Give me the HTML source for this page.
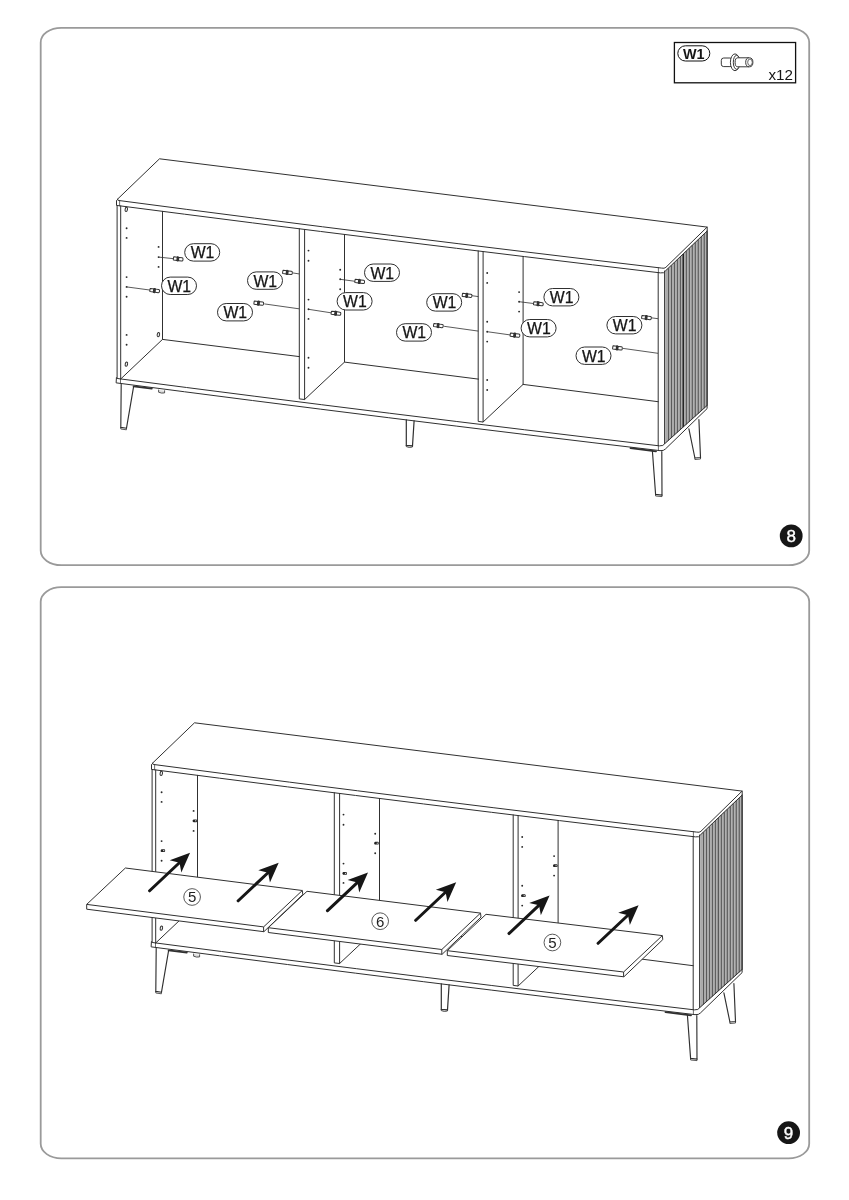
<!DOCTYPE html>
<html lang="en"><head><meta charset="utf-8"><title>Assembly steps 8-9</title>
<style>
html,body{margin:0;padding:0;background:#fff;}
body{width:849px;height:1200px;overflow:hidden;}
svg{display:block;font-family:"Liberation Sans",Arial,sans-serif;fill:#161616;}
svg{will-change:transform;}
</style></head><body>
<svg width="849" height="1200" viewBox="0 0 849 1200">
<rect width="849" height="1200" fill="#fff"/>
<rect x="40.7" y="27.8" width="768.5" height="537.4" rx="20.6" ry="14.6" fill="none" stroke="#9a9a9a" stroke-width="1.8"/>
<rect x="40.7" y="587.2" width="768.5" height="571.2" rx="20.6" ry="14.6" fill="none" stroke="#9a9a9a" stroke-width="1.8"/>
<!-- step 8 -->
<g id="cab" fill="none" stroke-width="1" stroke-linecap="round">
<path d="M665.3,271.2 L707.1,231.1 L707.1,405.6 L665.3,443.2 Z" fill="#a6a6a6" stroke="none"/>
<g stroke-linecap="butt">
<path d="M667.39,269.24 V440.21" stroke="#dcdcdc" stroke-width="0.8"/>
<path d="M668.29,268.34 V440.51" stroke="#444" stroke-width="1.0"/>
<path d="M670.37,266.37 V437.53" stroke="#dcdcdc" stroke-width="0.8"/>
<path d="M671.27,265.47 V437.83" stroke="#444" stroke-width="1.0"/>
<path d="M673.36,263.51 V434.84" stroke="#dcdcdc" stroke-width="0.8"/>
<path d="M674.26,262.61 V435.14" stroke="#444" stroke-width="1.0"/>
<path d="M676.34,260.64 V432.16" stroke="#dcdcdc" stroke-width="0.8"/>
<path d="M677.24,259.74 V432.46" stroke="#444" stroke-width="1.0"/>
<path d="M679.33,257.78 V429.47" stroke="#dcdcdc" stroke-width="0.8"/>
<path d="M680.23,256.88 V429.77" stroke="#444" stroke-width="1.0"/>
<path d="M682.31,254.91 V426.79" stroke="#dcdcdc" stroke-width="0.8"/>
<path d="M683.21,254.01 V427.09" stroke="#262626" stroke-width="1.6"/>
<path d="M685.3,252.05 V424.1" stroke="#dcdcdc" stroke-width="0.8"/>
<path d="M686.2,251.15 V424.4" stroke="#444" stroke-width="1.0"/>
<path d="M688.29,249.19 V421.41" stroke="#dcdcdc" stroke-width="0.8"/>
<path d="M689.19,248.29 V421.71" stroke="#444" stroke-width="1.0"/>
<path d="M691.27,246.32 V418.73" stroke="#dcdcdc" stroke-width="0.8"/>
<path d="M692.17,245.42 V419.03" stroke="#444" stroke-width="1.0"/>
<path d="M694.26,243.46 V416.04" stroke="#dcdcdc" stroke-width="0.8"/>
<path d="M695.16,242.56 V416.34" stroke="#444" stroke-width="1.0"/>
<path d="M697.24,240.59 V413.36" stroke="#dcdcdc" stroke-width="0.8"/>
<path d="M698.14,239.69 V413.66" stroke="#444" stroke-width="1.0"/>
<path d="M700.23,237.73 V410.67" stroke="#dcdcdc" stroke-width="0.8"/>
<path d="M701.13,236.83 V410.97" stroke="#444" stroke-width="1.0"/>
<path d="M703.21,234.86 V407.99" stroke="#dcdcdc" stroke-width="0.8"/>
<path d="M704.11,233.96 V408.29" stroke="#444" stroke-width="1.0"/>
<path d="M706.2,232 V405.3" stroke="#dcdcdc" stroke-width="0.8"/>
<path d="M707.1,231.1 V405.6" stroke="#262626" stroke-width="1.0"/>
</g>
<path d="M117.6,199.1 L159.5,158.8 L707.1,227.1 L665.9,267.3 Q664.4,268.8 661.6,268.09 L593.78,260.07 L525.95,251.93 L458.12,243.67 L390.3,235.29 L322.48,226.78 L254.65,218.15 L186.82,209.4 L119,200.53 Q116.5,200.2 117.6,199.1 Z" fill="#fff" stroke="#303030"/>
<path d="M116.5,200.6 V205.4 L184.5,214.18 L252.5,222.86 L320.5,231.44 L388.5,239.93 L456.5,248.31 L524.5,256.6 L592.5,264.79 L660.5,272.88 Q664.2,273.52 665.3,271 L707.2,231 V227.1" fill="none" stroke="#303030"/>
<path d="M119.6,200.9 V205.8 M658.4,267.71 V272.63" stroke="#303030" stroke-width="0.7"/>
<path d="M117.1,205.5 V378.4 M120.7,206 V379" stroke="#303030"/>
<path d="M162.5,211.35 V339.4 L120.7,379" fill="none" stroke="#303030"/>
<path d="M162.5,339.4 L299.3,356.6" stroke="#303030"/>
<path d="M299.3,228.78 V398.9 L304.6,399.5 V229.45" fill="none" stroke="#303030"/>
<path d="M304.6,399.5 L344.5,362.1 V234.45" fill="none" stroke="#303030"/>
<path d="M344.5,362.1 L478.4,379.11" stroke="#303030"/>
<path d="M478.2,250.97 V421.4 L483.1,422 V251.57" fill="none" stroke="#303030"/>
<path d="M483.1,422 L523.1,384.4 V256.43" fill="none" stroke="#303030"/>
<path d="M523.1,384.4 L658.2,401.71" stroke="#303030"/>
<path d="M658.2,272.61 V445.72 M664.6,271 V443.6" stroke="#303030"/>
<path d="M707.1,231 V405.5" stroke="#303030"/>
<path d="M116.5,377.9 Q116.6,378.6 119,378.73 L186.56,387.5 L254.12,396.17 L321.69,404.73 L389.25,413.18 L456.81,421.51 L524.38,429.74 L591.94,437.86 L659.5,445.87 Q663.4,446.16 664.8,443.6 L707.1,405.5 V408.6 L665.4,449 Q663.8,451 660,450.65 L592.06,442.57 L524.12,434.38 L456.19,426.07 L388.25,417.66 L320.31,409.14 L252.38,400.5 L184.44,391.76 L116.5,382.9 Z" fill="none" stroke="#303030"/>
<path d="M120.5,378.92 V383.42 M658.4,445.74 V450.46" stroke="#303030" stroke-width="0.7"/>
<path d="M121.2,384.3 L120.8,427.4 L126.5,428.2 L133.6,386.6" fill="none" stroke="#303030" stroke-width="1.15"/>
<path d="M120.8,427.4 V429 L126.4,429.8 V428.2" fill="none" stroke="#303030" stroke-width="0.8"/>
<path d="M133.6,386.4 L151.8,388.7" stroke="#303030" stroke-width="1.8"/>
<path d="M158.6,390 V392.2 Q161.5,393.6 164.6,392.9 V390.7" fill="#ddd" stroke="#303030" stroke-width="0.8"/>
<path d="M406.3,419.91 V445.4 L412.5,445.9 L414.1,420.87" fill="none" stroke="#303030" stroke-width="1.2"/>
<path d="M406.3,445.4 V446.6 Q409.3,448 412.4,447 V445.9" fill="none" stroke="#303030" stroke-width="0.9"/>
<path d="M652.4,451 L655.6,494.4 L662,495 L661.8,451.6" fill="none" stroke="#303030" stroke-width="1.15"/>
<path d="M655.6,494.4 V496 L662,496.6 V495" fill="none" stroke="#303030" stroke-width="0.8"/>
<path d="M630.5,448.2 L656,451.4" stroke="#303030" stroke-width="1.8"/>
<path d="M688.9,428.9 L694.9,458 L700.5,457.5 L698.9,419.6" fill="none" stroke="#303030" stroke-width="1.15"/>
<path d="M694.9,458 V459.5 L700.5,459 V457.5" fill="none" stroke="#303030" stroke-width="0.8"/>
<g fill="#2a2a2a"><circle cx="126.6" cy="228.3" r="0.95"/><circle cx="126.6" cy="237.9" r="0.95"/><circle cx="126.6" cy="277.1" r="0.95"/><circle cx="126.6" cy="286.9" r="0.95"/><circle cx="126.6" cy="296.8" r="0.95"/><circle cx="126.6" cy="334.9" r="0.95"/><circle cx="126.6" cy="344.8" r="0.95"/><circle cx="158.6" cy="246.9" r="0.95"/><circle cx="158.6" cy="257.1" r="0.95"/><circle cx="158.6" cy="266.9" r="0.95"/><circle cx="308.5" cy="250.6" r="0.95"/><circle cx="308.5" cy="260.8" r="0.95"/><circle cx="308.5" cy="299.6" r="0.95"/><circle cx="308.5" cy="309.3" r="0.95"/><circle cx="308.5" cy="318.9" r="0.95"/><circle cx="308.5" cy="357.7" r="0.95"/><circle cx="308.5" cy="367.7" r="0.95"/><circle cx="340.2" cy="269.7" r="0.95"/><circle cx="340.2" cy="279.3" r="0.95"/><circle cx="340.2" cy="289.2" r="0.95"/><circle cx="487.2" cy="273" r="0.95"/><circle cx="487.2" cy="282.9" r="0.95"/><circle cx="487.2" cy="321.8" r="0.95"/><circle cx="487.2" cy="331.7" r="0.95"/><circle cx="487.2" cy="341.6" r="0.95"/><circle cx="487.2" cy="380" r="0.95"/><circle cx="487.2" cy="390" r="0.95"/><circle cx="519.1" cy="292.1" r="0.95"/><circle cx="519.1" cy="301.7" r="0.95"/><circle cx="519.1" cy="311.6" r="0.95"/></g>
<ellipse cx="126.3" cy="209.3" rx="1.2" ry="2.2" transform="rotate(12 126.3 209.3)" fill="#eee" stroke="#303030" stroke-width="1"/><ellipse cx="126.4" cy="364.1" rx="1.2" ry="2.2" transform="rotate(12 126.4 364.1)" fill="#eee" stroke="#303030" stroke-width="1"/><ellipse cx="158.4" cy="334.6" rx="1.2" ry="2.2" transform="rotate(12 158.4 334.6)" fill="#eee" stroke="#303030" stroke-width="1"/>
</g>
<path d="M158.6,257.1 L173.9,258.7" stroke="#303030" stroke-width="0.8"/>
<path d="M126.6,286.9 L150.3,290.1" stroke="#303030" stroke-width="0.8"/>
<path d="M292.6,272.9 L299,273.9" stroke="#303030" stroke-width="0.8"/>
<path d="M264.3,303.9 L299,308.8" stroke="#303030" stroke-width="0.8"/>
<path d="M340.2,279.3 L355.1,281.3" stroke="#303030" stroke-width="0.8"/>
<path d="M308.5,309.3 L331,312.8" stroke="#303030" stroke-width="0.8"/>
<path d="M471.9,295.7 L478.3,296.6" stroke="#303030" stroke-width="0.8"/>
<path d="M444.1,326.3 L478.3,331.1" stroke="#303030" stroke-width="0.8"/>
<path d="M519.1,301.7 L533.4,303.5" stroke="#303030" stroke-width="0.8"/>
<path d="M487.2,331.7 L510,334.9" stroke="#303030" stroke-width="0.8"/>
<path d="M651.2,317.8 L658,318.7" stroke="#303030" stroke-width="0.8"/>
<path d="M623,348.4 L658,353.3" stroke="#303030" stroke-width="0.8"/>
<g transform="translate(178.3 259) rotate(7.2)" fill="#fff" stroke="#303030" stroke-width="1"><rect x="-4.9" y="-1.6" width="4.2" height="3.2" rx="0.4"/><rect x="-0.2" y="-1.6" width="4.9" height="3.2" rx="1.1"/><rect x="-1.3" y="-2.1" width="1.7" height="4.2" rx="0.6" fill="#333"/></g>
<g transform="translate(154.8 290.6) rotate(7.2)" fill="#fff" stroke="#303030" stroke-width="1"><rect x="-4.9" y="-1.6" width="4.2" height="3.2" rx="0.4"/><rect x="-0.2" y="-1.6" width="4.9" height="3.2" rx="1.1"/><rect x="-1.3" y="-2.1" width="1.7" height="4.2" rx="0.6" fill="#333"/></g>
<g transform="translate(287.6 272.5) rotate(7.2)" fill="#fff" stroke="#303030" stroke-width="1"><rect x="-4.9" y="-1.6" width="4.2" height="3.2" rx="0.4"/><rect x="-0.2" y="-1.6" width="4.9" height="3.2" rx="1.1"/><rect x="-1.3" y="-2.1" width="1.7" height="4.2" rx="0.6" fill="#333"/></g>
<g transform="translate(258.9 303.2) rotate(7.2)" fill="#fff" stroke="#303030" stroke-width="1"><rect x="-4.9" y="-1.6" width="4.2" height="3.2" rx="0.4"/><rect x="-0.2" y="-1.6" width="4.9" height="3.2" rx="1.1"/><rect x="-1.3" y="-2.1" width="1.7" height="4.2" rx="0.6" fill="#333"/></g>
<g transform="translate(359.8 281.5) rotate(7.2)" fill="#fff" stroke="#303030" stroke-width="1"><rect x="-4.9" y="-1.6" width="4.2" height="3.2" rx="0.4"/><rect x="-0.2" y="-1.6" width="4.9" height="3.2" rx="1.1"/><rect x="-1.3" y="-2.1" width="1.7" height="4.2" rx="0.6" fill="#333"/></g>
<g transform="translate(336.1 313.3) rotate(7.2)" fill="#fff" stroke="#303030" stroke-width="1"><rect x="-4.9" y="-1.6" width="4.2" height="3.2" rx="0.4"/><rect x="-0.2" y="-1.6" width="4.9" height="3.2" rx="1.1"/><rect x="-1.3" y="-2.1" width="1.7" height="4.2" rx="0.6" fill="#333"/></g>
<g transform="translate(467.2 295.4) rotate(7.2)" fill="#fff" stroke="#303030" stroke-width="1"><rect x="-4.9" y="-1.6" width="4.2" height="3.2" rx="0.4"/><rect x="-0.2" y="-1.6" width="4.9" height="3.2" rx="1.1"/><rect x="-1.3" y="-2.1" width="1.7" height="4.2" rx="0.6" fill="#333"/></g>
<g transform="translate(438.5 325.6) rotate(7.2)" fill="#fff" stroke="#303030" stroke-width="1"><rect x="-4.9" y="-1.6" width="4.2" height="3.2" rx="0.4"/><rect x="-0.2" y="-1.6" width="4.9" height="3.2" rx="1.1"/><rect x="-1.3" y="-2.1" width="1.7" height="4.2" rx="0.6" fill="#333"/></g>
<g transform="translate(538.5 303.8) rotate(7.2)" fill="#fff" stroke="#303030" stroke-width="1"><rect x="-4.9" y="-1.6" width="4.2" height="3.2" rx="0.4"/><rect x="-0.2" y="-1.6" width="4.9" height="3.2" rx="1.1"/><rect x="-1.3" y="-2.1" width="1.7" height="4.2" rx="0.6" fill="#333"/></g>
<g transform="translate(515.1 335.2) rotate(7.2)" fill="#fff" stroke="#303030" stroke-width="1"><rect x="-4.9" y="-1.6" width="4.2" height="3.2" rx="0.4"/><rect x="-0.2" y="-1.6" width="4.9" height="3.2" rx="1.1"/><rect x="-1.3" y="-2.1" width="1.7" height="4.2" rx="0.6" fill="#333"/></g>
<g transform="translate(646.6 317.6) rotate(7.2)" fill="#fff" stroke="#303030" stroke-width="1"><rect x="-4.9" y="-1.6" width="4.2" height="3.2" rx="0.4"/><rect x="-0.2" y="-1.6" width="4.9" height="3.2" rx="1.1"/><rect x="-1.3" y="-2.1" width="1.7" height="4.2" rx="0.6" fill="#333"/></g>
<g transform="translate(617.6 348) rotate(7.2)" fill="#fff" stroke="#303030" stroke-width="1"><rect x="-4.9" y="-1.6" width="4.2" height="3.2" rx="0.4"/><rect x="-0.2" y="-1.6" width="4.9" height="3.2" rx="1.1"/><rect x="-1.3" y="-2.1" width="1.7" height="4.2" rx="0.6" fill="#333"/></g>
<rect x="184.7" y="243.7" width="35" height="17.4" rx="8.7" fill="#fff" stroke="#303030" stroke-width="1"/><text x="202.5" y="258.3" font-size="15.8" text-anchor="middle" stroke="#161616" stroke-width="0.25">W1</text>
<rect x="161.5" y="277.1" width="35" height="17.4" rx="8.7" fill="#fff" stroke="#303030" stroke-width="1"/><text x="179.3" y="291.7" font-size="15.8" text-anchor="middle" stroke="#161616" stroke-width="0.25">W1</text>
<rect x="247.5" y="271.9" width="35" height="17.4" rx="8.7" fill="#fff" stroke="#303030" stroke-width="1"/><text x="265.3" y="286.5" font-size="15.8" text-anchor="middle" stroke="#161616" stroke-width="0.25">W1</text>
<rect x="217.5" y="303.5" width="35" height="17.4" rx="8.7" fill="#fff" stroke="#303030" stroke-width="1"/><text x="235.3" y="318.1" font-size="15.8" text-anchor="middle" stroke="#161616" stroke-width="0.25">W1</text>
<rect x="364.5" y="264" width="35" height="17.4" rx="8.7" fill="#fff" stroke="#303030" stroke-width="1"/><text x="382.3" y="278.6" font-size="15.8" text-anchor="middle" stroke="#161616" stroke-width="0.25">W1</text>
<rect x="337.1" y="292.6" width="35" height="17.4" rx="8.7" fill="#fff" stroke="#303030" stroke-width="1"/><text x="354.9" y="307.2" font-size="15.8" text-anchor="middle" stroke="#161616" stroke-width="0.25">W1</text>
<rect x="426.7" y="293.7" width="35" height="17.4" rx="8.7" fill="#fff" stroke="#303030" stroke-width="1"/><text x="444.5" y="308.3" font-size="15.8" text-anchor="middle" stroke="#161616" stroke-width="0.25">W1</text>
<rect x="396.5" y="323.7" width="35" height="17.4" rx="8.7" fill="#fff" stroke="#303030" stroke-width="1"/><text x="414.3" y="338.3" font-size="15.8" text-anchor="middle" stroke="#161616" stroke-width="0.25">W1</text>
<rect x="543.9" y="288.5" width="35" height="17.4" rx="8.7" fill="#fff" stroke="#303030" stroke-width="1"/><text x="561.7" y="303.1" font-size="15.8" text-anchor="middle" stroke="#161616" stroke-width="0.25">W1</text>
<rect x="521.1" y="319.5" width="35" height="17.4" rx="8.7" fill="#fff" stroke="#303030" stroke-width="1"/><text x="538.9" y="334.1" font-size="15.8" text-anchor="middle" stroke="#161616" stroke-width="0.25">W1</text>
<rect x="606.9" y="316.5" width="35" height="17.4" rx="8.7" fill="#fff" stroke="#303030" stroke-width="1"/><text x="624.7" y="331.1" font-size="15.8" text-anchor="middle" stroke="#161616" stroke-width="0.25">W1</text>
<rect x="576" y="347" width="35" height="17.4" rx="8.7" fill="#fff" stroke="#303030" stroke-width="1"/><text x="593.8" y="361.6" font-size="15.8" text-anchor="middle" stroke="#161616" stroke-width="0.25">W1</text>
<rect x="674.4" y="42.5" width="121.2" height="40.3" fill="#fff" stroke="#111" stroke-width="1.3"/>
<rect x="677.8" y="45.8" width="32" height="15.2" rx="7.6" fill="#fff" stroke="#111" stroke-width="1"/>
<text x="693.8" y="58.7" font-size="14.4" font-weight="bold" text-anchor="middle">W1</text>
<text x="793" y="79.6" font-size="15.2" text-anchor="end">x12</text>
<g fill="#fff" stroke="#222" stroke-width="0.9">
<rect x="721.3" y="58" width="11" height="8.6" rx="2.4"/>
<ellipse cx="735" cy="62.3" rx="4.6" ry="8.4"/>
<ellipse cx="736.6" cy="62.3" rx="3.3" ry="7"/>
<path d="M737.5,57.8 H749 V66.8 H737.5 A2.6 4.5 0 0 1 737.5,57.8 Z" stroke="none"/>
<path d="M737.6,57.8 H749 M737.6,66.8 H749 M737.7,57.8 A2.6 4.5 0 0 0 737.7,66.8"/>
<ellipse cx="749.3" cy="62.3" rx="3.6" ry="4.5"/>
<ellipse cx="750" cy="62.3" rx="2.3" ry="3.3" stroke-width="0.7"/>
</g>
<circle cx="791.2" cy="535.9" r="11.4" fill="#161616"/><text x="791.2" y="542" font-size="17" fill="#fff" stroke="#fff" stroke-width="0.4" text-anchor="middle">8</text>
<!-- step 9 -->
<g transform="translate(35 564)" fill="none" stroke-width="1" stroke-linecap="round">
<path d="M665.3,271.2 L707.1,231.1 L707.1,405.6 L665.3,443.2 Z" fill="#a6a6a6" stroke="none"/>
<g stroke-linecap="butt">
<path d="M667.39,269.24 V440.21" stroke="#dcdcdc" stroke-width="0.8"/>
<path d="M668.29,268.34 V440.51" stroke="#444" stroke-width="1.0"/>
<path d="M670.37,266.37 V437.53" stroke="#dcdcdc" stroke-width="0.8"/>
<path d="M671.27,265.47 V437.83" stroke="#444" stroke-width="1.0"/>
<path d="M673.36,263.51 V434.84" stroke="#dcdcdc" stroke-width="0.8"/>
<path d="M674.26,262.61 V435.14" stroke="#444" stroke-width="1.0"/>
<path d="M676.34,260.64 V432.16" stroke="#dcdcdc" stroke-width="0.8"/>
<path d="M677.24,259.74 V432.46" stroke="#444" stroke-width="1.0"/>
<path d="M679.33,257.78 V429.47" stroke="#dcdcdc" stroke-width="0.8"/>
<path d="M680.23,256.88 V429.77" stroke="#444" stroke-width="1.0"/>
<path d="M682.31,254.91 V426.79" stroke="#dcdcdc" stroke-width="0.8"/>
<path d="M683.21,254.01 V427.09" stroke="#444" stroke-width="1.15"/>
<path d="M685.3,252.05 V424.1" stroke="#dcdcdc" stroke-width="0.8"/>
<path d="M686.2,251.15 V424.4" stroke="#444" stroke-width="1.0"/>
<path d="M688.29,249.19 V421.41" stroke="#dcdcdc" stroke-width="0.8"/>
<path d="M689.19,248.29 V421.71" stroke="#444" stroke-width="1.0"/>
<path d="M691.27,246.32 V418.73" stroke="#dcdcdc" stroke-width="0.8"/>
<path d="M692.17,245.42 V419.03" stroke="#444" stroke-width="1.0"/>
<path d="M694.26,243.46 V416.04" stroke="#dcdcdc" stroke-width="0.8"/>
<path d="M695.16,242.56 V416.34" stroke="#444" stroke-width="1.0"/>
<path d="M697.24,240.59 V413.36" stroke="#dcdcdc" stroke-width="0.8"/>
<path d="M698.14,239.69 V413.66" stroke="#444" stroke-width="1.0"/>
<path d="M700.23,237.73 V410.67" stroke="#dcdcdc" stroke-width="0.8"/>
<path d="M701.13,236.83 V410.97" stroke="#444" stroke-width="1.0"/>
<path d="M703.21,234.86 V407.99" stroke="#dcdcdc" stroke-width="0.8"/>
<path d="M704.11,233.96 V408.29" stroke="#444" stroke-width="1.0"/>
<path d="M706.2,232 V405.3" stroke="#dcdcdc" stroke-width="0.8"/>
<path d="M707.1,231.1 V405.6" stroke="#262626" stroke-width="1.0"/>
</g>
<path d="M117.6,199.1 L159.5,158.8 L707.1,227.1 L665.9,267.3 Q664.4,268.8 661.6,268.09 L593.78,260.07 L525.95,251.93 L458.12,243.67 L390.3,235.29 L322.48,226.78 L254.65,218.15 L186.82,209.4 L119,200.53 Q116.5,200.2 117.6,199.1 Z" fill="#fff" stroke="#303030"/>
<path d="M116.5,200.6 V205.4 L184.5,214.18 L252.5,222.86 L320.5,231.44 L388.5,239.93 L456.5,248.31 L524.5,256.6 L592.5,264.79 L660.5,272.88 Q664.2,273.52 665.3,271 L707.2,231 V227.1" fill="none" stroke="#303030"/>
<path d="M119.6,200.9 V205.8 M658.4,267.71 V272.63" stroke="#303030" stroke-width="0.7"/>
<path d="M117.1,205.5 V378.4 M120.7,206 V379" stroke="#303030"/>
<path d="M162.5,211.35 V339.4 L120.7,379" fill="none" stroke="#303030"/>
<path d="M162.5,339.4 L299.3,356.6" stroke="#303030"/>
<path d="M299.3,228.78 V398.9 L304.6,399.5 V229.45" fill="none" stroke="#303030"/>
<path d="M304.6,399.5 L344.5,362.1 V234.45" fill="none" stroke="#303030"/>
<path d="M344.5,362.1 L478.4,379.11" stroke="#303030"/>
<path d="M478.2,250.97 V421.4 L483.1,422 V251.57" fill="none" stroke="#303030"/>
<path d="M483.1,422 L523.1,384.4 V256.43" fill="none" stroke="#303030"/>
<path d="M523.1,384.4 L658.2,401.71" stroke="#303030"/>
<path d="M658.2,272.61 V445.72 M664.6,271 V443.6" stroke="#303030"/>
<path d="M707.1,231 V405.5" stroke="#303030"/>
<path d="M116.5,377.9 Q116.6,378.6 119,378.73 L186.56,387.5 L254.12,396.17 L321.69,404.73 L389.25,413.18 L456.81,421.51 L524.38,429.74 L591.94,437.86 L659.5,445.87 Q663.4,446.16 664.8,443.6 L707.1,405.5 V408.6 L665.4,449 Q663.8,451 660,450.65 L592.06,442.57 L524.12,434.38 L456.19,426.07 L388.25,417.66 L320.31,409.14 L252.38,400.5 L184.44,391.76 L116.5,382.9 Z" fill="none" stroke="#303030"/>
<path d="M120.5,378.92 V383.42 M658.4,445.74 V450.46" stroke="#303030" stroke-width="0.7"/>
<path d="M121.2,384.3 L120.8,427.4 L126.5,428.2 L133.6,386.6" fill="none" stroke="#303030" stroke-width="1.15"/>
<path d="M120.8,427.4 V429 L126.4,429.8 V428.2" fill="none" stroke="#303030" stroke-width="0.8"/>
<path d="M133.6,386.4 L151.8,388.7" stroke="#303030" stroke-width="1.8"/>
<path d="M158.6,390 V392.2 Q161.5,393.6 164.6,392.9 V390.7" fill="#ddd" stroke="#303030" stroke-width="0.8"/>
<path d="M406.3,419.91 V445.4 L412.5,445.9 L414.1,420.87" fill="none" stroke="#303030" stroke-width="1.2"/>
<path d="M406.3,445.4 V446.6 Q409.3,448 412.4,447 V445.9" fill="none" stroke="#303030" stroke-width="0.9"/>
<path d="M652.4,451 L655.6,494.4 L662,495 L661.8,451.6" fill="none" stroke="#303030" stroke-width="1.15"/>
<path d="M655.6,494.4 V496 L662,496.6 V495" fill="none" stroke="#303030" stroke-width="0.8"/>
<path d="M630.5,448.2 L656,451.4" stroke="#303030" stroke-width="1.8"/>
<path d="M688.9,428.9 L694.9,458 L700.5,457.5 L698.9,419.6" fill="none" stroke="#303030" stroke-width="1.15"/>
<path d="M694.9,458 V459.5 L700.5,459 V457.5" fill="none" stroke="#303030" stroke-width="0.8"/>
<g fill="#2a2a2a"><circle cx="126.6" cy="228.3" r="0.95"/><circle cx="126.6" cy="237.9" r="0.95"/><circle cx="126.6" cy="277.1" r="0.95"/><circle cx="126.6" cy="286.9" r="0.95"/><circle cx="126.6" cy="296.8" r="0.95"/><circle cx="126.6" cy="334.9" r="0.95"/><circle cx="126.6" cy="344.8" r="0.95"/><circle cx="158.6" cy="246.9" r="0.95"/><circle cx="158.6" cy="257.1" r="0.95"/><circle cx="158.6" cy="266.9" r="0.95"/><circle cx="308.5" cy="250.6" r="0.95"/><circle cx="308.5" cy="260.8" r="0.95"/><circle cx="308.5" cy="299.6" r="0.95"/><circle cx="308.5" cy="309.3" r="0.95"/><circle cx="308.5" cy="318.9" r="0.95"/><circle cx="308.5" cy="357.7" r="0.95"/><circle cx="308.5" cy="367.7" r="0.95"/><circle cx="340.2" cy="269.7" r="0.95"/><circle cx="340.2" cy="279.3" r="0.95"/><circle cx="340.2" cy="289.2" r="0.95"/><circle cx="487.2" cy="273" r="0.95"/><circle cx="487.2" cy="282.9" r="0.95"/><circle cx="487.2" cy="321.8" r="0.95"/><circle cx="487.2" cy="331.7" r="0.95"/><circle cx="487.2" cy="341.6" r="0.95"/><circle cx="487.2" cy="380" r="0.95"/><circle cx="487.2" cy="390" r="0.95"/><circle cx="519.1" cy="292.1" r="0.95"/><circle cx="519.1" cy="301.7" r="0.95"/><circle cx="519.1" cy="311.6" r="0.95"/></g>
<ellipse cx="126.3" cy="209.3" rx="1.2" ry="2.2" transform="rotate(12 126.3 209.3)" fill="#eee" stroke="#303030" stroke-width="1"/><ellipse cx="126.4" cy="364.1" rx="1.2" ry="2.2" transform="rotate(12 126.4 364.1)" fill="#eee" stroke="#303030" stroke-width="1"/><ellipse cx="158.4" cy="334.6" rx="1.2" ry="2.2" transform="rotate(12 158.4 334.6)" fill="#eee" stroke="#303030" stroke-width="1"/>
</g>
<rect x="160.9" y="849.2" width="4.2" height="2.8" rx="0.9" fill="#222"/><rect x="163.1" y="850.05" width="1.2" height="1.1" fill="#ddd"/>
<rect x="192.9" y="819.4" width="4.2" height="2.8" rx="0.9" fill="#222"/><rect x="195.1" y="820.25" width="1.2" height="1.1" fill="#ddd"/>
<rect x="342.7" y="872" width="4.2" height="2.8" rx="0.9" fill="#222"/><rect x="344.9" y="872.85" width="1.2" height="1.1" fill="#ddd"/>
<rect x="374.5" y="841.8" width="4.2" height="2.8" rx="0.9" fill="#222"/><rect x="376.7" y="842.65" width="1.2" height="1.1" fill="#ddd"/>
<rect x="521.4" y="894.3" width="4.2" height="2.8" rx="0.9" fill="#222"/><rect x="523.6" y="895.15" width="1.2" height="1.1" fill="#ddd"/>
<rect x="553.3" y="864.3" width="4.2" height="2.8" rx="0.9" fill="#222"/><rect x="555.5" y="865.15" width="1.2" height="1.1" fill="#ddd"/>
<path d="M86.7,904.4 L125.4,868 L302.3,890.5 L302.8,894.5 L263.9,931.7 L86.7,909.2 Z" fill="#fff" stroke="#303030" stroke-linejoin="round"/><path d="M86.7,904.4 L263.6,926.9 L302.3,890.5" fill="none" stroke="#303030" stroke-linejoin="round"/><path d="M263.6,926.9 V931.7" stroke="#303030"/>
<path d="M268.3,927.7 L307,891.3 L480.5,913.1 L481,917.1 L442.1,954.3 L268.3,932.5 Z" fill="#fff" stroke="#303030" stroke-linejoin="round"/><path d="M268.3,927.7 L441.8,949.5 L480.5,913.1" fill="none" stroke="#303030" stroke-linejoin="round"/><path d="M441.8,949.5 V954.3" stroke="#303030"/>
<path d="M447.3,950.7 L486,914.3 L662.3,935.6 L662.8,939.6 L623.9,976.8 L447.3,955.5 Z" fill="#fff" stroke="#303030" stroke-linejoin="round"/><path d="M447.3,950.7 L623.6,972 L662.3,935.6" fill="none" stroke="#303030" stroke-linejoin="round"/><path d="M623.6,972 V976.8" stroke="#303030"/>
<g transform="translate(148.5 891.8) rotate(-43.23)" fill="#161616"><rect x="0" y="-1.5" width="43.59" height="3" rx="1.2"/><path d="M57.09,0 L37.09,-8.5 L42.59,0 L37.09,8.5 Z"/></g>
<g transform="translate(237.1 901.8) rotate(-43.23)" fill="#161616"><rect x="0" y="-1.5" width="43.59" height="3" rx="1.2"/><path d="M57.09,0 L37.09,-8.5 L42.59,0 L37.09,8.5 Z"/></g>
<g transform="translate(326.4 911.7) rotate(-43.23)" fill="#161616"><rect x="0" y="-1.5" width="43.59" height="3" rx="1.2"/><path d="M57.09,0 L37.09,-8.5 L42.59,0 L37.09,8.5 Z"/></g>
<g transform="translate(414.6 921.3) rotate(-43.23)" fill="#161616"><rect x="0" y="-1.5" width="43.59" height="3" rx="1.2"/><path d="M57.09,0 L37.09,-8.5 L42.59,0 L37.09,8.5 Z"/></g>
<g transform="translate(508 934.5) rotate(-43.23)" fill="#161616"><rect x="0" y="-1.5" width="43.59" height="3" rx="1.2"/><path d="M57.09,0 L37.09,-8.5 L42.59,0 L37.09,8.5 Z"/></g>
<g transform="translate(597 944.3) rotate(-43.23)" fill="#161616"><rect x="0" y="-1.5" width="43.59" height="3" rx="1.2"/><path d="M57.09,0 L37.09,-8.5 L42.59,0 L37.09,8.5 Z"/></g>
<circle cx="192.1" cy="897" r="8.35" fill="#fff" stroke="#3c3c3c" stroke-width="0.85"/><text x="192.1" y="902.45" font-size="15" text-anchor="middle" fill="#222">5</text>
<circle cx="380.15" cy="921.2" r="8.35" fill="#fff" stroke="#3c3c3c" stroke-width="0.85"/><text x="380.15" y="926.65" font-size="15" text-anchor="middle" fill="#222">6</text>
<circle cx="552.4" cy="942.5" r="8.35" fill="#fff" stroke="#3c3c3c" stroke-width="0.85"/><text x="552.4" y="947.95" font-size="15" text-anchor="middle" fill="#222">5</text>
<circle cx="788.6" cy="1132.7" r="11.4" fill="#161616"/><text x="788.6" y="1138.8" font-size="17" fill="#fff" stroke="#fff" stroke-width="0.4" text-anchor="middle">9</text>
</svg>
</body></html>
